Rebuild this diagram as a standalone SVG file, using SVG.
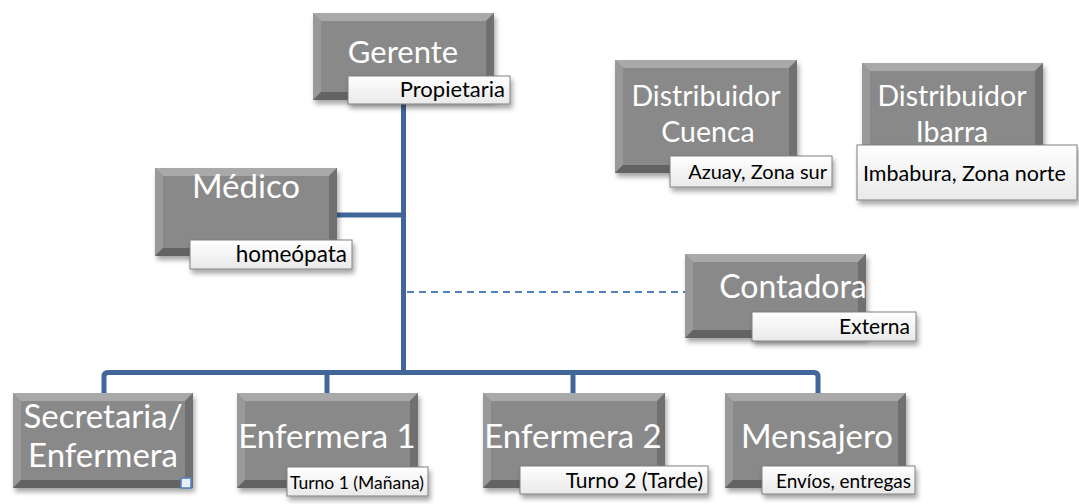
<svg xmlns="http://www.w3.org/2000/svg" width="1079" height="504" viewBox="0 0 1079 504">
<defs>
<filter id="sh" x="-10%" y="-10%" width="130%" height="140%">
<feDropShadow dx="2" dy="4" stdDeviation="2.5" flood-color="#000" flood-opacity="0.35"/>
</filter>
<linearGradient id="lg" x1="0" y1="0" x2="0" y2="1">
<stop offset="0" stop-color="#ffffff"/>
<stop offset="1" stop-color="#e9e9e9"/>
</linearGradient>
</defs>
<style>
.box{fill:#898989}
.bt{fill:#a9a9a9}
.bl{fill:#999999}
.br{fill:#6f6f6f}
.bb{fill:#636363}
.lab{fill:url(#lg);stroke:#808080;stroke-width:1}
.big{font-family:Lato,"Liberation Sans",sans-serif;font-size:31px;fill:#ffffff;text-anchor:middle}
.sm{font-family:Lato,"Liberation Sans",sans-serif;font-size:20px;fill:#000000}
.ln{fill:none;stroke:#41679a;stroke-width:5;stroke-linejoin:round}
.dash{fill:none;stroke:#4f81bd;stroke-width:2;stroke-dasharray:7 5}
</style>

<g id="connectors">
<path class="ln" d="M403.5,104 V372.5"/>
<path class="ln" d="M337,215 H403.5"/>
<path class="ln" d="M104,393 V376.5 Q104,372.5 108,372.5 H814 Q818,372.5 818,376.5 V393"/>
<path class="ln" d="M327,372.5 V393"/>
<path class="ln" d="M573,372.5 V393"/>
<path class="dash" d="M407,292 H685"/>
</g>

<g id="gerente">
<g filter="url(#sh)">
<rect class="box" x="313" y="13" width="181" height="87"/>
<polygon class="bt" points="313,13 494,13 486,21 321,21"/>
<polygon class="bl" points="313,13 321,21 321,92 313,100"/>
<polygon class="br" points="494,13 494,100 486,92 486,21"/>
<polygon class="bb" points="313,100 494,100 486,92 321,92"/>
</g>
<text class="big" x="403" y="63">Gerente</text>
<rect class="lab" x="348" y="76" width="162" height="28" filter="url(#sh)"/>
<text class="sm" x="505" y="97" text-anchor="end" style="font-size:22px">Propietaria</text>
</g>

<g id="medico">
<g filter="url(#sh)">
<rect class="box" x="155" y="168" width="182" height="88"/>
<polygon class="bt" points="155,168 337,168 329,176 163,176"/>
<polygon class="bl" points="155,168 163,176 163,248 155,256"/>
<polygon class="br" points="337,168 337,256 329,248 329,176"/>
<polygon class="bb" points="155,256 337,256 329,248 163,248"/>
</g>
<text class="big" x="246" y="198" style="font-size:33px">Médico</text>
<rect class="lab" x="190" y="240" width="162" height="29" filter="url(#sh)"/>
<text class="sm" x="347" y="262" text-anchor="end" style="font-size:22.5px">homeópata</text>
</g>

<g id="cuenca">
<g filter="url(#sh)">
<rect class="box" x="615" y="60" width="182" height="113"/>
<polygon class="bt" points="615,60 797,60 789,68 623,68"/>
<polygon class="bl" points="615,60 623,68 623,165 615,173"/>
<polygon class="br" points="797,60 797,173 789,165 789,68"/>
<polygon class="bb" points="615,173 797,173 789,165 623,165"/>
</g>
<text class="big" x="706" y="106" style="font-size:28.5px">Distribuidor</text>
<text class="big" x="708" y="142" style="font-size:28.5px">Cuenca</text>
<rect class="lab" x="670" y="156" width="162" height="31" filter="url(#sh)"/>
<text class="sm" x="827" y="179" text-anchor="end">Azuay, Zona sur</text>
</g>

<g id="ibarra">
<g filter="url(#sh)">
<rect class="box" x="862" y="63" width="181" height="100"/>
<polygon class="bt" points="862,63 1043,63 1035,71 870,71"/>
<polygon class="bl" points="862,63 870,71 870,155 862,163"/>
<polygon class="br" points="1043,63 1043,163 1035,155 1035,71"/>
<polygon class="bb" points="862,163 1043,163 1035,155 870,155"/>
</g>
<text class="big" x="952" y="106" style="font-size:28.5px">Distribuidor</text>
<text class="big" x="952" y="142" style="font-size:28.5px">Ibarra</text>
<rect class="lab" x="857" y="145" width="220" height="55" filter="url(#sh)"/>
<text class="sm" x="863" y="181" style="font-size:21.5px">Imbabura, Zona norte</text>
</g>

<g id="contadora">
<g filter="url(#sh)">
<rect class="box" x="685" y="254" width="181" height="84"/>
<polygon class="bt" points="685,254 866,254 858,262 693,262"/>
<polygon class="bl" points="685,254 693,262 693,330 685,338"/>
<polygon class="br" points="866,254 866,338 858,330 858,262"/>
<polygon class="bb" points="685,338 866,338 858,330 693,330"/>
</g>
<text class="big" x="793" y="298" style="font-size:32px">Contadora</text>
<rect class="lab" x="752" y="312" width="164" height="29" filter="url(#sh)"/>
<text class="sm" x="910" y="334" text-anchor="end" style="font-size:21px">Externa</text>
</g>

<g id="secretaria">
<g filter="url(#sh)">
<rect class="box" x="13" y="393" width="180" height="95"/>
<polygon class="bt" points="13,393 193,393 185,401 21,401"/>
<polygon class="bl" points="13,393 21,401 21,480 13,488"/>
<polygon class="br" points="193,393 193,488 185,480 185,401"/>
<polygon class="bb" points="13,488 193,488 185,480 21,480"/>
</g>
<text class="big" x="103" y="428" style="font-size:33px">Secretaria/</text>
<text class="big" x="103" y="467" style="font-size:33px">Enfermera</text>
<rect x="181" y="478" width="10" height="10" fill="#e8eef7" stroke="#4f81bd" stroke-width="1.5"/>
</g>

<g id="enfermera1">
<g filter="url(#sh)">
<rect class="box" x="237" y="393" width="181" height="95"/>
<polygon class="bt" points="237,393 418,393 410,401 245,401"/>
<polygon class="bl" points="237,393 245,401 245,480 237,488"/>
<polygon class="br" points="418,393 418,488 410,480 410,401"/>
<polygon class="bb" points="237,488 418,488 410,480 245,480"/>
</g>
<text class="big" x="327" y="448" style="font-size:33px">Enfermera 1</text>
<rect class="lab" x="287" y="467" width="141" height="29" filter="url(#sh)"/>
<text class="sm" x="424" y="489" text-anchor="end" style="font-size:17.5px">Turno 1 (Mañana)</text>
</g>

<g id="enfermera2">
<g filter="url(#sh)">
<rect class="box" x="483" y="393" width="182" height="95"/>
<polygon class="bt" points="483,393 665,393 657,401 491,401"/>
<polygon class="bl" points="483,393 491,401 491,480 483,488"/>
<polygon class="br" points="665,393 665,488 657,480 657,401"/>
<polygon class="bb" points="483,488 665,488 657,480 491,480"/>
</g>
<text class="big" x="573" y="448" style="font-size:33px">Enfermera 2</text>
<rect class="lab" x="520" y="466" width="188" height="28" filter="url(#sh)"/>
<text class="sm" x="703" y="488" text-anchor="end" style="font-size:21px">Turno 2 (Tarde)</text>
</g>

<g id="mensajero">
<g filter="url(#sh)">
<rect class="box" x="725" y="393" width="181" height="95"/>
<polygon class="bt" points="725,393 906,393 898,401 733,401"/>
<polygon class="bl" points="725,393 733,401 733,480 725,488"/>
<polygon class="br" points="906,393 906,488 898,480 898,401"/>
<polygon class="bb" points="725,488 906,488 898,480 733,480"/>
</g>
<text class="big" x="817" y="448" style="font-size:33px">Mensajero</text>
<rect class="lab" x="762" y="466" width="153" height="28" filter="url(#sh)"/>
<text class="sm" x="911" y="488" text-anchor="end" style="font-size:19px">Envíos, entregas</text>
</g>
</svg>
